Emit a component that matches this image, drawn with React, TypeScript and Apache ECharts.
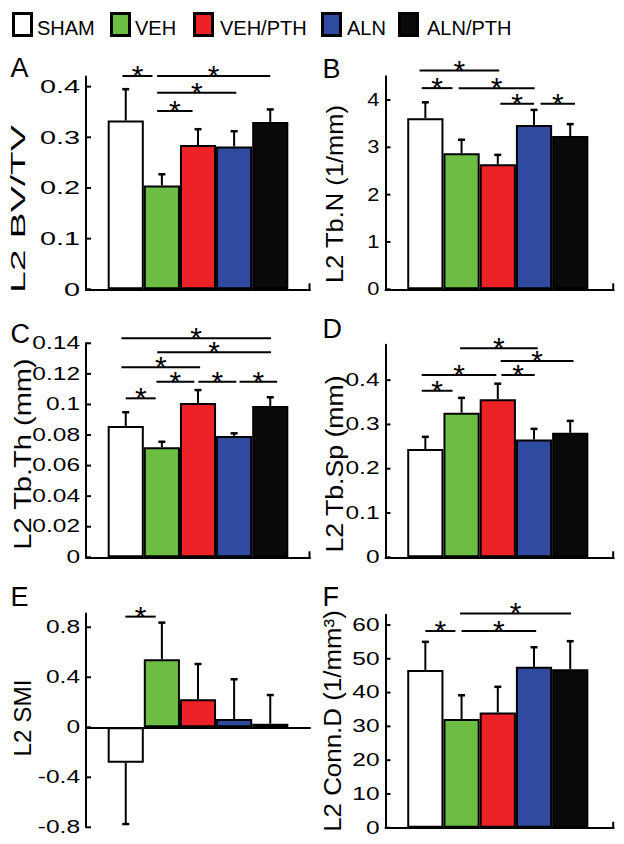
import React, { useEffect, useRef } from 'react';
import * as echarts from 'echarts';

// ---------------- data ----------------
const groups = ['SHAM', 'VEH', 'VEH/PTH', 'ALN', 'ALN/PTH'];
const groupColors = ['#ffffff', '#6dbd45', '#ec2227', '#2f4a9e', '#0a0a0a'];

// A: BV/TV
const bvtvMean = [0.333, 0.205, 0.285, 0.282, 0.330];
const bvtvErr = [0.062, 0.022, 0.031, 0.030, 0.025];
const bvtvTicks = [0, 0.1, 0.2, 0.3, 0.4];
const bvtvTickLabels = ['0', '0.1', '0.2', '0.3', '0.4'];
const bvtvSig = [[-0.09, 0.74, 0.421], [0.87, 4.0, 0.421], [0.87, 3.06, 0.388], [0.87, 1.85, 0.352]];

// B: Tb.N
const tbnMean = [3.615, 2.875, 2.64, 3.47, 3.24];
const tbnErr = [0.335, 0.285, 0.2, 0.32, 0.25];
const tbnTicks = [0, 1, 2, 3, 4];
const tbnTickLabels = ['0', '1', '2', '3', '4'];
const tbnSig = [[-0.16, 2.04, 4.62], [-0.1, 0.75, 4.25], [0.92, 3.02, 4.25], [2.07, 3.0, 3.92], [3.18, 4.13, 3.92]];

// C: Tb.Th
const tbthMean = [0.0859, 0.0720, 0.1010, 0.0794, 0.0990];
const tbthErr = [0.0090, 0.0036, 0.0084, 0.0017, 0.0057];
const tbthTicks = [0, 0.02, 0.04, 0.06, 0.08, 0.1, 0.12, 0.14];
const tbthTickLabels = ['0', '0.02', '0.04', '0.06', '0.08', '0.1', '0.12', '0.14'];
const tbthSig = [
  [-0.12, 4.02, 0.1433], [0.87, 4.02, 0.1341], [-0.12, 2.06, 0.1243],
  [0.85, 1.9, 0.1149], [2.01, 3.06, 0.1149], [3.15, 4.19, 0.1149], [0, 0.83, 0.104],
];

// D: Tb.Sp
const tbspMean = [0.2445, 0.3265, 0.357, 0.266, 0.281];
const tbspErr = [0.0275, 0.0335, 0.035, 0.024, 0.027];
const tbspTicks = [0, 0.1, 0.2, 0.3, 0.4];
const tbspTickLabels = ['0', '0.1', '0.2', '0.3', '0.4'];
const tbspSig = [[0.96, 3.1, 0.472], [2.08, 4.09, 0.443], [-0.1, 1.96, 0.4115], [2.1, 3.02, 0.4115], [-0.1, 0.75, 0.376]];

// E: SMI
const smiMean = [-0.283, 0.544, 0.224, 0.066, 0.029];
const smiErr = [0.491, 0.293, 0.282, 0.318, 0.229];
const smiTicks = [-0.8, -0.4, 0, 0.4, 0.8];
const smiTickLabels = ['-0.8', '-0.4', '0', '0.4', '0.8'];
const smiSig = [[-0.01, 0.83, 0.885]];

// F: Conn.D
const conndMean = [46.7, 32.2, 34.1, 47.6, 46.9];
const conndErr = [8.3, 7.0, 7.6, 5.8, 8.3];
const conndTicks = [0, 10, 20, 30, 40, 50, 60];
const conndTickLabels = ['0', '10', '20', '30', '40', '50', '60'];
const conndSig = [[0.96, 4.02, 63.4], [0, 0.83, 58.2], [1.0, 3.06, 58.2]];

// ---------------- layout ----------------
const FONT = '"Liberation Sans", Arial, Helvetica, sans-serif';

const panels = [
  { letter: 'A', title: 'L2 BV/TV', mean: bvtvMean, err: bvtvErr, ticks: bvtvTicks, labels: bvtvTickLabels, sig: bvtvSig,
    yMin: 0, yMax: 0.42, xMin: -1.1, xMax: 5.1, grid: { left: 86, top: 76.5, width: 224, height: 212.8 }, endTick: true,
    titlePos: [18, 209], titleSize: 21, titleScale: 1.87, letterPos: [10.5, 67.5], labelScale: 1.65 },
  { letter: 'B', title: 'L2 Tb.N (1/mm)', mean: tbnMean, err: tbnErr, ticks: tbnTicks, labels: tbnTickLabels, sig: tbnSig,
    yMin: 0, yMax: 4.5, xMin: -1.1, xMax: 5.2, grid: { left: 385.5, top: 76.3, width: 228.2, height: 213 }, endTick: true,
    titlePos: [335, 194], titleSize: 23, titleScale: 1.11, letterPos: [322.5, 69], labelScale: 1.25 },
  { letter: 'C', title: 'L2 Tb.Th (mm)', mean: tbthMean, err: tbthErr, ticks: tbthTicks, labels: tbthTickLabels, sig: tbthSig,
    yMin: 0, yMax: 0.14, xMin: -1.1, xMax: 5.1, grid: { left: 86, top: 343.3, width: 224, height: 214 }, endTick: true,
    titlePos: [23, 454], titleSize: 24, titleScale: 1.21, letterPos: [10.5, 334], labelScale: 1.4 },
  { letter: 'D', title: 'L2 Tb.Sp (mm)', mean: tbspMean, err: tbspErr, ticks: tbspTicks, labels: tbspTickLabels, sig: tbspSig,
    yMin: 0, yMax: 0.48, xMin: -1.1, xMax: 5.2, grid: { left: 385.5, top: 344.7, width: 228.2, height: 212.6 }, endTick: true,
    titlePos: [334.5, 464], titleSize: 24, titleScale: 1.11, letterPos: [322.5, 329], labelScale: 1.4 },
  { letter: 'E', title: 'L2 SMI', mean: smiMean, err: smiErr, ticks: smiTicks, labels: smiTickLabels, sig: smiSig,
    yMin: -0.8, yMax: 0.91, xMin: -1.1, xMax: 5.1, grid: { left: 86, top: 613.5, width: 224, height: 213.8 }, endTick: false,
    titlePos: [22.5, 718], titleSize: 24, titleScale: 1.01, letterPos: [10.5, 596.5], labelScale: 1.4 },
  { letter: 'F', title: 'L2 Conn.D (1/mm³)', mean: conndMean, err: conndErr, ticks: conndTicks, labels: conndTickLabels, sig: conndSig,
    yMin: 0, yMax: 63, xMin: -1.1, xMax: 5.2, grid: { left: 385.5, top: 614.8, width: 228.2, height: 213 }, endTick: true,
    titlePos: [332, 721], titleSize: 24, titleScale: 1.08, letterPos: [322.5, 596.5], labelScale: 1.4 },
];

const legendBoxX = [12, 110, 193, 321, 398];
const legendTextX = [37, 135, 220, 347, 427];

function buildOption() {
  const grid: any[] = [];
  const xAxis: any[] = [];
  const yAxis: any[] = [];
  const series: any[] = [];
  const graphic: any[] = [];

  panels.forEach((p, i) => {
    grid.push({ ...p.grid, containLabel: false });
    xAxis.push({
      gridIndex: i, type: 'value', min: p.xMin, max: p.xMax,
      axisLine: { show: true, onZero: true, lineStyle: { color: '#000', width: 2 } },
      axisTick: { show: false }, axisLabel: { show: false }, splitLine: { show: false },
    });
    yAxis.push({
      gridIndex: i, type: 'value', min: p.yMin, max: p.yMax,
      axisLine: { show: true, onZero: false, lineStyle: { color: '#000', width: 2 } },
      axisTick: { show: false }, axisLabel: { show: false }, splitLine: { show: false },
    });
    const bw = p.grid.width / (p.xMax - p.xMin);
    series.push({
      type: 'bar', xAxisIndex: i, yAxisIndex: i, barWidth: bw, z: 2,
      data: p.mean.map((v, j) => ({ name: groups[j], value: [j, v], itemStyle: { color: groupColors[j] } })),
      itemStyle: { borderColor: '#000', borderWidth: 2 },
    });
    // error bars
    series.push({
      type: 'custom', xAxisIndex: i, yAxisIndex: i, z: 5, clip: false,
      data: p.mean.map((v, j) => [j, v, p.err[j]]),
      encode: { x: 0, y: 1 },
      renderItem: (params: any, api: any) => {
        const x = api.value(0);
        const v = api.value(1);
        const e = api.value(2);
        const end = v >= 0 ? v + e : v - e;
        const a = api.coord([x, v]);
        const b = api.coord([x, end]);
        return {
          type: 'group',
          children: [
            { type: 'line', shape: { x1: a[0], y1: a[1], x2: b[0], y2: b[1] }, style: { stroke: '#000', lineWidth: 2 } },
            { type: 'line', shape: { x1: b[0] - 3.5, y1: b[1], x2: b[0] + 3.5, y2: b[1] }, style: { stroke: '#000', lineWidth: 2.5 } },
          ],
        };
      },
    });
    // significance brackets
    series.push({
      type: 'custom', xAxisIndex: i, yAxisIndex: i, z: 6, clip: false,
      data: p.sig,
      encode: { x: [0, 1], y: 2 },
      renderItem: (params: any, api: any) => {
        const a = api.coord([api.value(0), api.value(2)]);
        const b = api.coord([api.value(1), api.value(2)]);
        return {
          type: 'group',
          children: [
            { type: 'line', shape: { x1: a[0], y1: a[1], x2: b[0], y2: b[1] }, style: { stroke: '#000', lineWidth: 2 } },
            {
              type: 'text', x: (a[0] + b[0]) / 2, y: a[1] - 0.5,
              style: { text: '*', fill: '#000', fontSize: 30, fontFamily: FONT, align: 'center', verticalAlign: 'middle' },
            },
          ],
        };
      },
    });
    // y ticks + labels
    const labels = p.labels;
    const xMin = p.xMin;
    const ls = p.labelScale;
    series.push({
      type: 'custom', xAxisIndex: i, yAxisIndex: i, z: 6, clip: false,
      data: p.ticks.map((t) => [xMin, t]),
      encode: { x: 0, y: 1 },
      renderItem: (params: any, api: any) => {
        const c = api.coord([xMin, api.value(1)]);
        return {
          type: 'group',
          children: [
            { type: 'line', shape: { x1: c[0], y1: c[1], x2: c[0] + 5, y2: c[1] }, style: { stroke: '#000', lineWidth: 2 } },
            {
              type: 'text', x: c[0] - 6, y: c[1], scaleX: ls,
              style: { text: labels[params.dataIndex], fill: '#000', fontSize: 17.5, fontFamily: FONT, align: 'right', verticalAlign: 'middle' },
            },
          ],
        };
      },
    });
    if (p.endTick) {
      const xMax = p.xMax;
      series.push({
        type: 'custom', xAxisIndex: i, yAxisIndex: i, z: 6, clip: false,
        data: [[xMax, 0]],
        encode: { x: 0, y: 1 },
        renderItem: (params: any, api: any) => {
          const c = api.coord([api.value(0), api.value(1)]);
          return { type: 'line', shape: { x1: c[0] - 0.5, y1: c[1], x2: c[0] - 0.5, y2: c[1] - 6 }, style: { stroke: '#000', lineWidth: 2 } };
        },
      });
    }
    // axis title
    graphic.push({
      type: 'text', x: p.titlePos[0], y: p.titlePos[1], rotation: Math.PI / 2, scaleX: p.titleScale,
      style: { text: p.title, fill: '#000', fontSize: p.titleSize, fontFamily: FONT, align: 'center', verticalAlign: 'middle' },
    });
    // panel letter
    graphic.push({
      type: 'text', x: p.letterPos[0], y: p.letterPos[1],
      style: { text: p.letter, fill: '#000', fontSize: 27, fontFamily: FONT, align: 'left', verticalAlign: 'middle' },
    });
  });

  // legend
  groups.forEach((g, j) => {
    graphic.push({
      type: 'rect', shape: { x: legendBoxX[j] + 1.5, y: 13.5, width: 18, height: 22 },
      style: { fill: groupColors[j], stroke: '#000', lineWidth: 3 },
    });
    graphic.push({
      type: 'text', x: legendTextX[j], y: 28,
      style: { text: g, fill: '#000', fontSize: 20, fontFamily: FONT, align: 'left', verticalAlign: 'middle' },
    });
  });

  return { animation: false, backgroundColor: '#ffffff', grid, xAxis, yAxis, series, graphic };
}

export default function App() {
  const ref = useRef<HTMLDivElement>(null);
  useEffect(() => {
    if (!ref.current) return;
    const chart = echarts.init(ref.current, undefined, { renderer: 'svg' });
    chart.setOption(buildOption() as any);
    return () => chart.dispose();
  }, []);
  return <div ref={ref} style={{ position: 'fixed', left: 0, top: 0, width: 624, height: 844, background: '#fff' }} />;
}
